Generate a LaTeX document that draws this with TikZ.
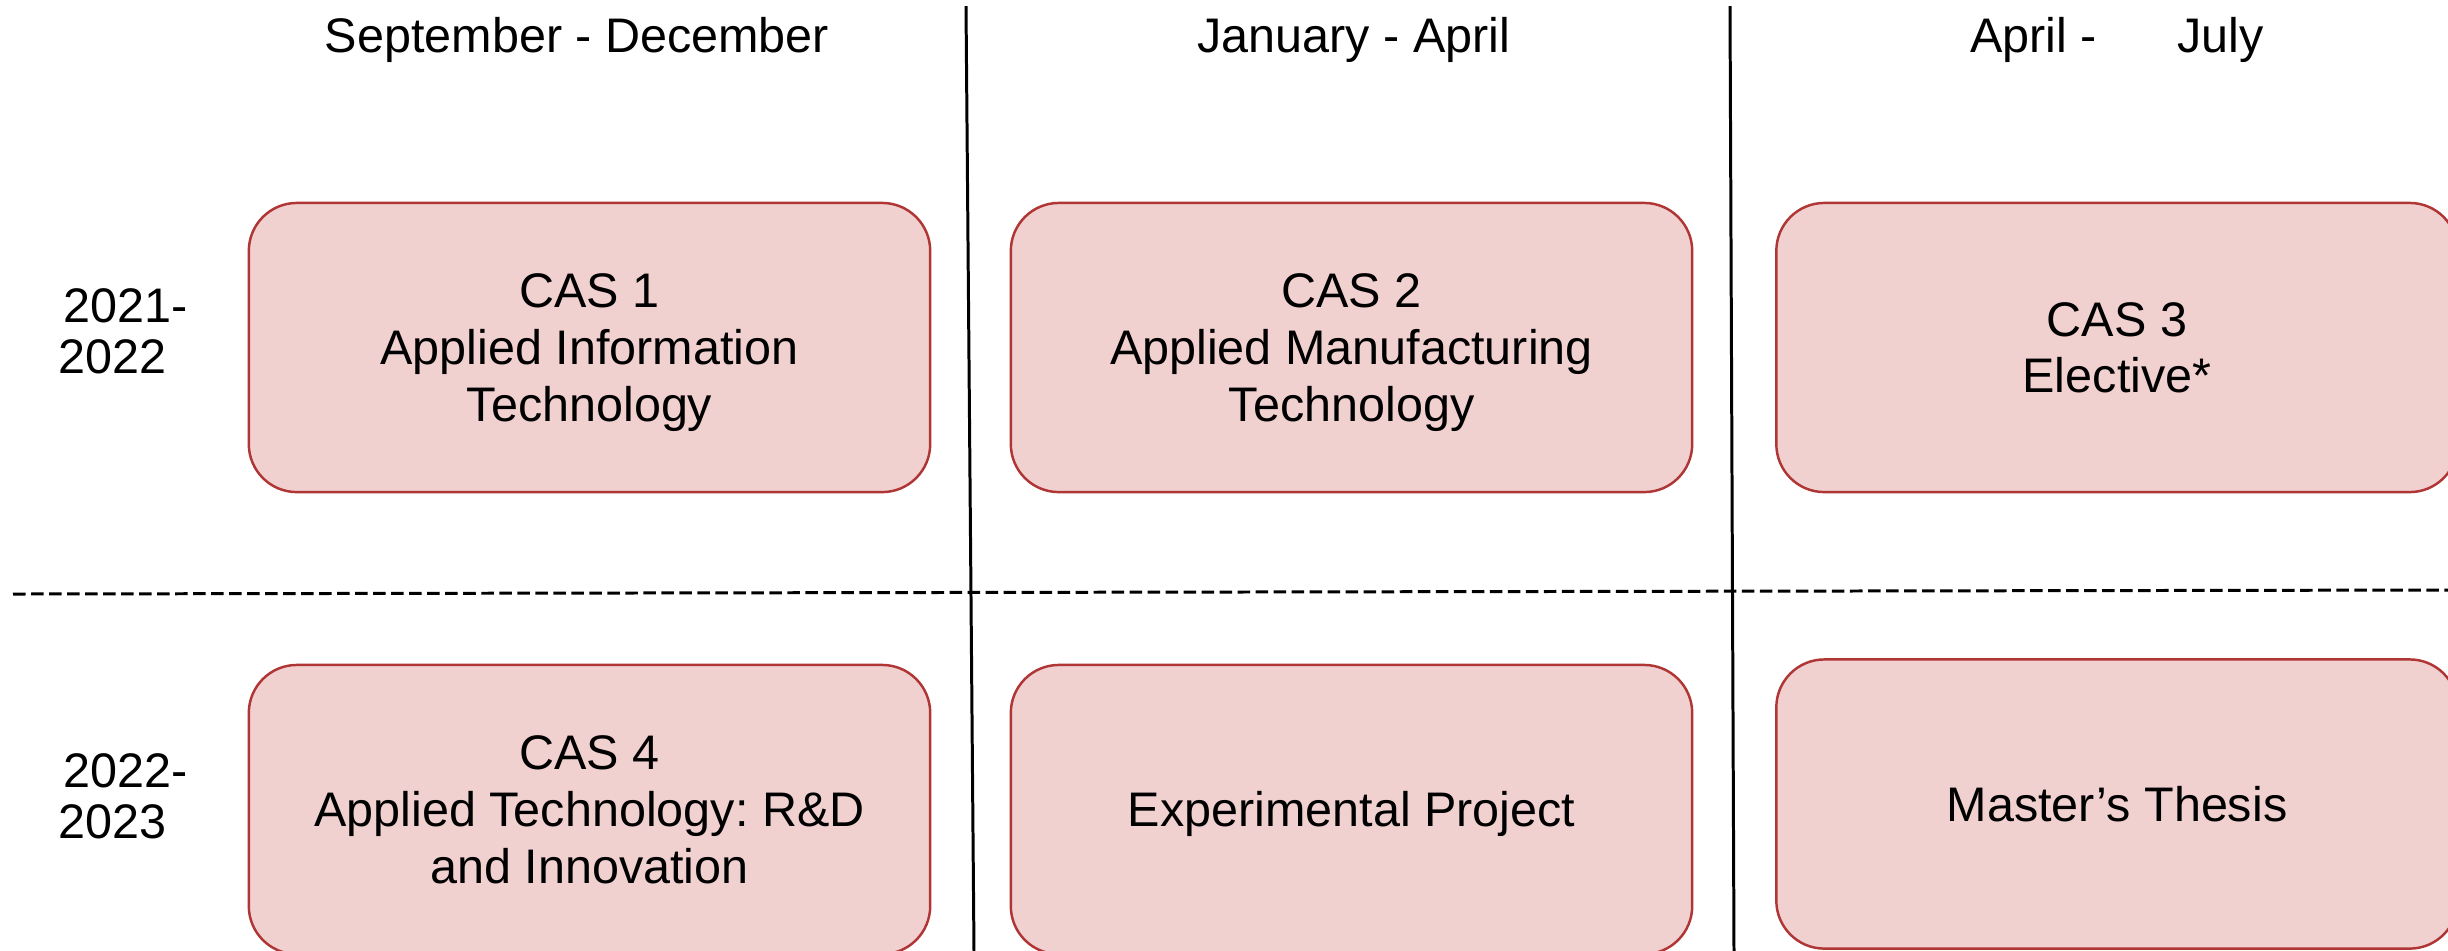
\documentclass[tikz,border=0pt]{standalone}
\usepackage{fontspec}
\setmainfont{Liberation Sans}
\frenchspacing
\definecolor{boxfill}{HTML}{F1D0D0}
\definecolor{boxline}{HTML}{B03535}
\newcommand\lnstrut{\rule[-0.2em]{0pt}{1.1em}}
\tikzset{
  box/.style={draw=boxline, fill=boxfill, line width=0.7pt, rounded corners=0.48cm,
    minimum width=6.81cm, minimum height=2.89cm, align=center, inner sep=0pt,
    font=\fontsize{13.8pt}{16.2pt}\selectfont},
  header/.style={anchor=base, inner sep=0pt, font=\fontsize{13.8pt}{16.2pt}\selectfont},
  yearlbl/.style={anchor=north west, inner sep=0pt, align=left, font=\fontsize{13.8pt}{14.5pt}\selectfont},
  divider/.style={line width=0.85pt, black},
  rowsep/.style={line width=0.85pt, black, dash pattern=on 0.125cm off 0.055cm}
}
\begin{document}
\begin{tikzpicture}[x=0.01cm, y=-0.01cm]
\useasboundingbox (0,0) rectangle (2448,950);
\clip (0,0) rectangle (2448,950);
% column dividers and row separator
\coordinate (v1t) at (966,6);
\coordinate (v1b) at (974,952);
\coordinate (v2t) at (1730,6);
\coordinate (v2b) at (1734,952);
\coordinate (hl) at (13,594);
\coordinate (hr) at (2450,590);
\draw[divider] (v1t) -- (v1b);
\draw[divider] (v2t) -- (v2b);
\draw[rowsep] (hl) -- (hr);
% headers
\node[header] (h1) at (577,52) {September - December};
\node[header] (h2) at (1354,52) {January - April};
\node[header] (h3) at (2117,52) {April -\hspace{0.8cm}July};
% year labels
\node[yearlbl] (y1) at (63,288) {2021-\\\hspace*{-0.05cm}2022};
\node[yearlbl] (y2) at (63,753) {2022-\\\hspace*{-0.05cm}2023};
% boxes
\node[box] (c1) at (589.5,347.5) {\lnstrut CAS 1\\\lnstrut Applied Information\\\lnstrut Technology};
\node[box] (c2) at (1351.5,347.5) {\lnstrut CAS 2\\\lnstrut Applied Manufacturing\\\lnstrut Technology};
\node[box] (c3) at (2117,347.5) {\lnstrut CAS 3\\\lnstrut Elective*};
\node[box] (c4) at (589.5,809.5) {\lnstrut CAS 4\\\lnstrut Applied Technology: R\&D\\\lnstrut and Innovation};
\node[box] (c5) at (1351.5,809.5) {\lnstrut Experimental Project};
\node[box] (c6) at (2117,804) {\lnstrut Master’s Thesis};
\end{tikzpicture}
\end{document}
